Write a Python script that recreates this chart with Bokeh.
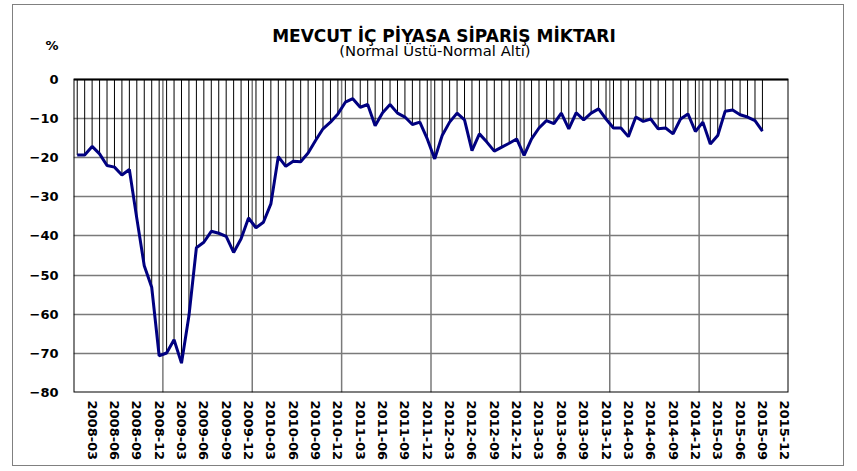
from bokeh.plotting import figure
from bokeh.models import Range1d, FixedTicker, Label
from bokeh.embed import file_html
from bokeh.resources import INLINE

# Monthly values, 2008-01 .. 2015-09
values = [
    -19.3, -19.3, -17.1, -19.0, -22.0, -22.4, -24.4, -23.0, -35.5, -47.6, -53.1, -70.6,
    -69.9, -66.5, -72.5, -60.4, -43.0, -41.6, -38.8, -39.3, -40.1, -44.2, -40.7, -35.4,
    -37.9, -36.5, -31.8, -19.7, -22.2, -20.9, -21.0, -18.8, -15.6, -12.6, -10.9, -8.8,
    -5.8, -4.9, -7.1, -6.4, -11.8, -8.5, -6.4, -8.6, -9.6, -11.5, -10.9, -15.2,
    -20.3, -14.3, -10.9, -8.6, -10.3, -18.2, -13.9, -16.0, -18.3, -17.3, -16.3, -15.2,
    -19.4, -15.2, -12.4, -10.5, -11.3, -8.6, -12.6, -8.5, -10.3, -8.6, -7.5, -10.1,
    -12.4, -12.4, -14.6, -9.6, -10.7, -10.1, -12.6, -12.4, -13.9, -10.1, -8.8, -13.3,
    -10.9, -16.5, -14.3, -8.1, -7.8, -9.0, -9.6, -10.5, -13.2,
]
n_months = 96  # category slots 2008-01 .. 2015-12
tick_labels = [
    "2008-03", "2008-06", "2008-09", "2008-12",
    "2009-03", "2009-06", "2009-09", "2009-12",
    "2010-03", "2010-06", "2010-09", "2010-12",
    "2011-03", "2011-06", "2011-09", "2011-12",
    "2012-03", "2012-06", "2012-09", "2012-12",
    "2013-03", "2013-06", "2013-09", "2013-12",
    "2014-03", "2014-06", "2014-09", "2014-12",
    "2015-03", "2015-06", "2015-09", "2015-12",
]
y_ticks = [0, -10, -20, -30, -40, -50, -60, -70, -80]
y_min, y_max = -80, 0
title_text = "MEVCUT İÇ PİYASA SİPARİŞ MİKTARI"
subtitle_text = "(Normal Üstü-Normal Altı)"
unit_text = "%"

xs = [i + 0.5 for i in range(len(values))]
tick_pos = [2.5 + 3 * k for k in range(len(tick_labels))]
year_lines = [12 * k for k in range(1, n_months // 12)]

top_room = 18.91   # space above 0 for the titles (data units)
unit_y = 8.69

p = figure(width=832, height=462, output_backend="svg", toolbar_location=None,
           x_range=Range1d(0, n_months), y_range=Range1d(y_min, y_max + top_room),
           min_border_left=60, min_border_right=57, min_border_top=0, min_border_bottom=75,
           tools="")
p.styles = {"margin-left": "12px", "margin-top": "4px", "border": "1px solid #808080"}
p.background_fill_color = "white"
p.border_fill_color = "white"
p.outline_line_color = None

# horizontal grid
p.ygrid.ticker = FixedTicker(ticks=y_ticks)
p.ygrid.grid_line_color = "#7a7a7a"
p.ygrid.grid_line_width = 1.5
p.xgrid.visible = False
# yearly vertical grid lines (plot area only)
p.segment(x0=year_lines, y0=[y_min] * len(year_lines), x1=year_lines, y1=[y_max] * len(year_lines),
          line_color="#7a7a7a", line_width=1.5)

# drop lines and series
p.segment(x0=xs, y0=[0] * len(xs), x1=xs, y1=values, line_color="black", line_width=1)
p.line(xs, values, line_color="#000080", line_width=3)

# plot-area border
p.quad(left=[0], right=[n_months], bottom=[y_min], top=[y_max], fill_color=None,
       line_color="black", line_width=2)

# axes
p.xaxis.ticker = FixedTicker(ticks=tick_pos)
p.xaxis.major_label_overrides = {t: l for t, l in zip(tick_pos, tick_labels)}
p.xaxis.major_label_orientation = "vertical"
p.yaxis.ticker = FixedTicker(ticks=y_ticks + [unit_y])
p.yaxis.major_label_overrides = {unit_y: unit_text}
for ax in (p.xaxis[0], p.yaxis[0]):
    ax.axis_line_color = None
    ax.major_tick_line_color = None
    ax.minor_tick_line_color = None
    ax.major_tick_out = 0
    ax.major_tick_in = 0
    ax.major_label_text_font = "DejaVu Sans"
    ax.major_label_text_font_style = "bold"
    ax.major_label_text_font_size = "13px"
    ax.major_label_text_color = "black"
p.xaxis.major_label_standoff = 8
p.yaxis.major_label_standoff = 15

p.add_layout(Label(x=49.74, y=11.19, text=title_text, text_align="center", text_baseline="alphabetic",
                   text_font="DejaVu Sans", text_font_style="bold", text_font_size="17px",
                   text_color="black"))
p.add_layout(Label(x=48.53, y=7.41, text=subtitle_text, text_align="center", text_baseline="alphabetic",
                   text_font="DejaVu Sans", text_font_size="14.8px", text_color="black"))

open("out.html", "w").write(file_html(p, INLINE))
